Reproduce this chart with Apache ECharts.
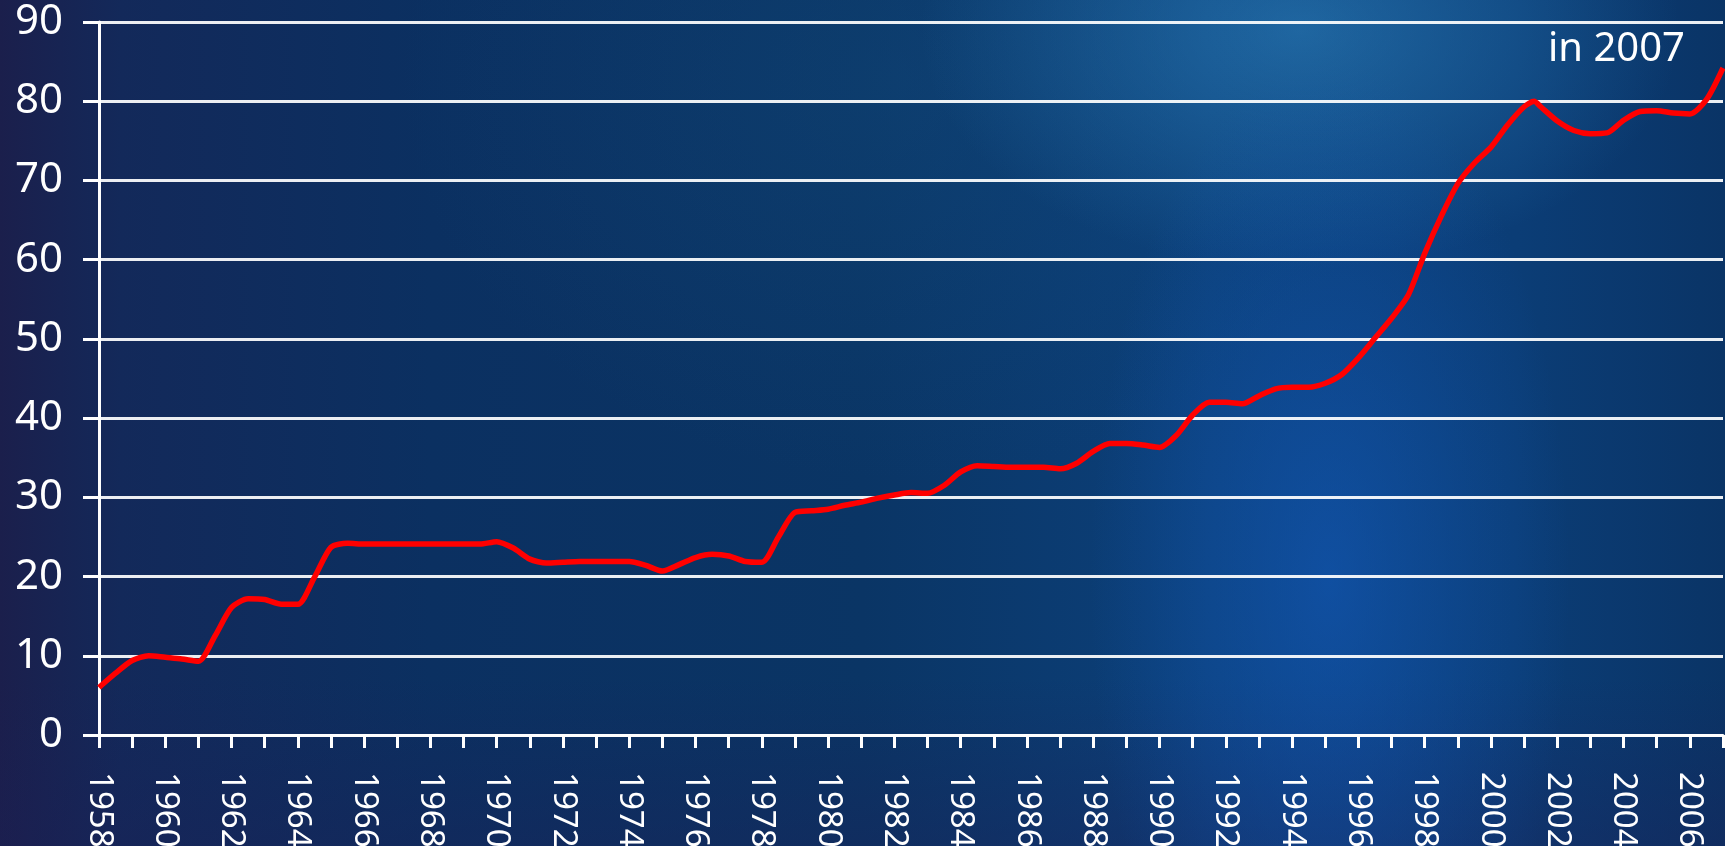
<!DOCTYPE html>
<html>
<head>
<meta charset="utf-8">
<script src="https://cdn.jsdelivr.net/npm/echarts@6/dist/echarts.min.js"></script>
<style>
html,body{margin:0;padding:0;width:1725px;height:846px;overflow:hidden;}
#bg{position:absolute;left:0;top:0;width:1725px;height:846px;
background:
 radial-gradient(ellipse 240px 520px at 1330px 580px, rgba(20,95,200,0.5), rgba(20,95,200,0) 100%),
 radial-gradient(ellipse 380px 240px at 1300px 30px, rgba(50,140,200,0.5), rgba(50,140,200,0) 100%),
 radial-gradient(ellipse 500px 400px at 900px 80px, rgba(20,80,130,0.3), rgba(20,80,130,0) 100%),
 linear-gradient(180deg, rgba(28,30,85,0) 80%, rgba(28,30,85,0.35) 100%),
 linear-gradient(90deg, #1b1f4c 0%, #13295a 7%, #0b3061 25%, #0a3565 50%, #0c407a 70%, #0b3d76 88%, #0a3466 100%);}
#chart{position:absolute;left:0;top:0;width:1725px;height:846px;}
</style>
</head>
<body>
<div id="bg"></div>
<div id="chart"></div>
<script>
// Data (half-year steps)
const years = [1958,1958.5,1959,1959.5,1960,1960.5,1961,1961.5,1962,1962.5,1963,1963.5,1964,1964.5,1965,1965.5,
1966,1966.5,1967,1967.5,1968,1968.5,1969,1969.5,1970,1970.5,1971,1971.5,1972,1972.5,1973,1973.5,1974,1974.5,
1975,1975.5,1976,1976.5,1977,1977.5,1978,1978.5,1979,1979.5,1980,1980.5,1981,1981.5,1982,1982.5,1983,1983.5,
1984,1984.5,1985,1985.5,1986,1986.5,1987,1987.5,1988,1988.5,1989,1989.5,1990,1990.5,1991,1991.5,1992,1992.5,
1993,1993.5,1994,1994.5,1995,1995.5,1996,1996.5,1997,1997.5,1998,1998.5,1999,1999.5,2000,2000.5,2001,2001.3,2001.5,
2002,2002.5,2003,2003.5,2004,2004.5,2005,2005.5,2006,2006.5,2007];
const values = [6.0,7.8,9.4,10.0,9.8,9.6,9.3,12.5,16.1,17.2,17.1,16.5,16.5,19.9,23.7,24.2,
24.1,24.1,24.1,24.1,24.1,24.1,24.1,24.1,24.4,23.6,22.2,21.7,21.8,21.9,21.9,21.9,21.9,21.4,
20.7,21.5,22.4,22.8,22.6,21.9,21.8,25.0,28.1,28.3,28.5,29.0,29.4,29.9,30.3,30.6,30.5,31.5,
33.2,34.0,33.9,33.8,33.8,33.8,33.6,34.3,35.8,36.8,36.8,36.6,36.3,37.8,40.4,42.0,42.0,41.8,
42.8,43.7,43.9,43.9,44.4,45.5,47.6,50.1,52.6,55.5,60.8,65.5,69.6,72.2,74.2,77.0,79.3,80.0,79.3,
77.5,76.3,75.9,76.0,77.6,78.7,78.8,78.5,78.4,80.2,84.2];
const yTicks = [0,10,20,30,40,50,60,70,80,90];
const note = 'in 2007';

const seriesData = years.map((y, i) => [y, values[i]]);
const FONT = '"Noto Sans", "Open Sans", sans-serif';
const chart = echarts.init(document.getElementById('chart'), null, {renderer: 'canvas'});
chart.setOption({
  backgroundColor: 'transparent',
  animation: false,
  grid: {left: 99, right: 2, top: 22, bottom: 111, containLabel: false, outerBoundsMode: 'none'},
  xAxis: {
    type: 'value', min: 1958, max: 2007, interval: 1,
    axisLine: {show: true, lineStyle: {color: '#ffffff', width: 3}},
    axisTick: {show: true, length: 13, lineStyle: {color: '#ffffff', width: 3}},
    splitLine: {show: false},
    axisLabel: {
      rotate: -90, margin: 37, color: '#ffffff', fontSize: 33, fontFamily: FONT,
      formatter: v => (Math.round(v) % 2 === 0 && v < 2007) ? String(Math.round(v)) : ''
    }
  },
  yAxis: {
    type: 'value', min: yTicks[0], max: yTicks[yTicks.length - 1], interval: 10,
    axisLine: {show: true, lineStyle: {color: '#ffffff', width: 3}},
    axisTick: {show: true, length: 16, lineStyle: {color: '#ffffff', width: 3}},
    splitLine: {show: true, lineStyle: {color: 'rgba(255,255,255,0.92)', width: 3}},
    axisLabel: {margin: 36, color: '#ffffff', fontSize: 42, fontFamily: FONT}
  },
  graphic: [{
    type: 'text', left: 1548, top: 30,
    style: {text: note, fill: '#ffffff', fontSize: 40, fontFamily: FONT}
  }],
  series: [{
    type: 'line', data: seriesData, smooth: 0.25, showSymbol: false,
    lineStyle: {color: '#ff0000', width: 5.5}, z: 5
  }]
});
</script>
</body>
</html>
